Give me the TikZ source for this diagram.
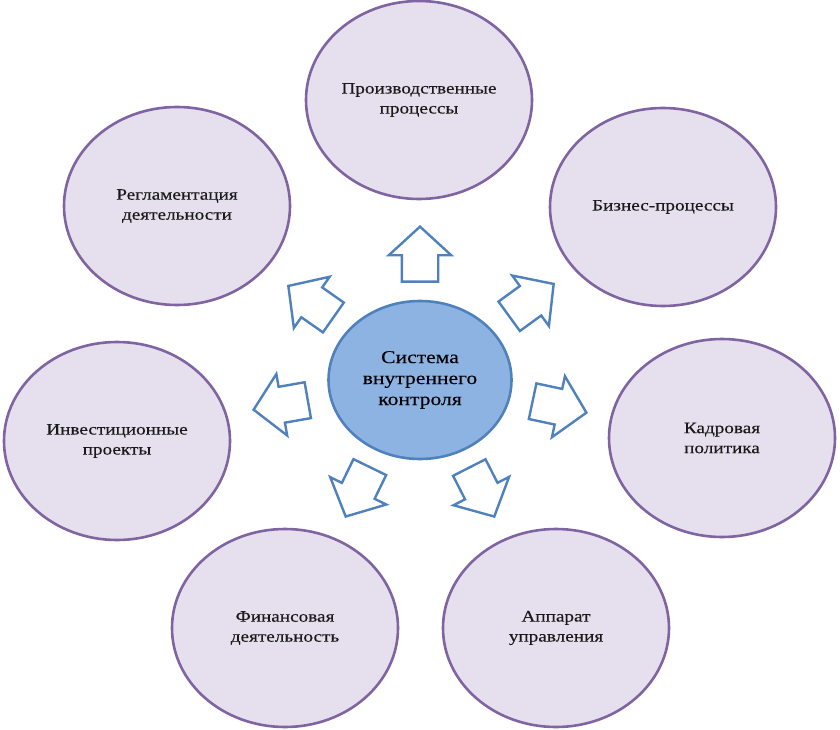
\documentclass[tikz,border=0pt]{standalone}
\usepackage{fontspec}
\setmainfont[FakeStretch=1.2,FakeBold=0.3]{Liberation Serif}
\usetikzlibrary{shapes.geometric,shapes.arrows}
\definecolor{areafill}{HTML}{E6E0EE}
\definecolor{areaedge}{HTML}{8064A2}
\definecolor{corefill}{HTML}{8DB3E2}
\definecolor{coreedge}{HTML}{4F81BD}
\begin{document}
\begin{tikzpicture}[x=1pt,y=-1pt,
                    area node/.style={ellipse,fill=areafill,draw=areaedge,line width=2.6pt,minimum width=226pt,minimum height=198pt,inner sep=0pt,align=center,font=\fontsize{16}{20}\selectfont,text=black!90},
                    core node/.style={ellipse,fill=corefill,draw=coreedge,line width=2.6pt,minimum width=183pt,minimum height=158pt,inner sep=0pt,align=center,font=\fontsize{18}{21}\selectfont,text=black},
                    flow arrow/.style={single arrow,draw=coreedge,fill=white,line width=2.4pt,minimum height=55pt,inner xsep=0pt,inner ysep=17pt,single arrow head extend=13pt,single arrow tip angle=95,anchor=tip}
                   ]
  \useasboundingbox (0,0) rectangle (840,730);
  \node[core node] (core) at (420,380) {Система\\внутреннего\\контроля};
  \node[area node] (prod) at (419,100) {Производственные\\процессы};
  \node[area node] (regl) at (177,206) {Регламентация\\деятельности};
  \node[area node] (biz) at (663,207) {Бизнес-процессы};
  \node[area node] (inv) at (117,441) {Инвестиционные\\проекты};
  \node[area node] (kadr) at (722,438) {Кадровая\\политика};
  \node[area node] (fin) at (285,628) {Финансовая\\деятельность};
  \node[area node] (app) at (556,628) {Аппарат\\управления};
  % block arrows from the core outwards, placed by their tips
  \node[flow arrow,rotate=90] (a1) at (420,225) {};
  \node[flow arrow,rotate=36] (a2) at (555,283) {};
  \node[flow arrow,rotate=-12] (a3) at (588,413) {};
  \node[flow arrow,rotate=-63] (a4) at (495,518) {};
  \node[flow arrow,rotate=-116] (a5) at (345,518) {};
  \node[flow arrow,rotate=190] (a6) at (252,410) {};
  \node[flow arrow,rotate=145] (a7) at (287,285) {};
\end{tikzpicture}
\end{document}
